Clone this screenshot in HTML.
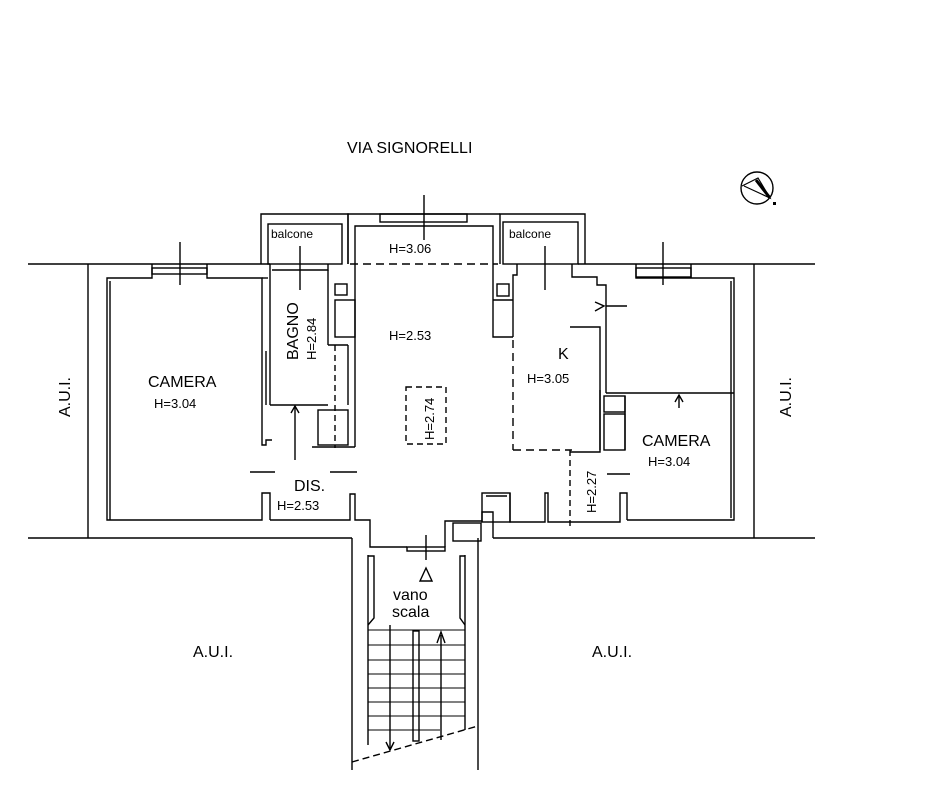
<!DOCTYPE html>
<html><head><meta charset="utf-8"><style>
html,body{margin:0;padding:0;background:#fff;width:951px;height:806px;overflow:hidden}
svg{display:block}
text{font-family:"Liberation Sans",sans-serif;fill:#000}
</style></head><body>
<svg width="951" height="806" viewBox="0 0 951 806" xmlns="http://www.w3.org/2000/svg">
<g stroke="#000" stroke-width="1.4" fill="none">
<line x1="28" y1="264" x2="270" y2="264"/>
<line x1="578" y1="264" x2="815" y2="264"/>
<line x1="28" y1="538" x2="352" y2="538"/>
<line x1="493" y1="538" x2="815" y2="538"/>
<line x1="88" y1="264" x2="88" y2="538"/>
<line x1="754" y1="264" x2="754" y2="538"/>
<polyline points="152,264 152,278 107,278 107,520 262,520 262,493 270,493 270,520"/>
<line x1="110" y1="281" x2="110" y2="520"/>
<polyline points="207,264 207,278 262,278 262,445 266,445 266,440 272,440"/>
<rect x="152" y="268" width="55" height="6"/>
<line x1="180" y1="242" x2="180" y2="285"/>
<line x1="262" y1="278" x2="268" y2="278"/>
<line x1="266" y1="351" x2="266" y2="405"/>
<polyline points="261,264 261,214 348,214 348,264"/>
<rect x="268" y="224" width="74" height="40"/>
<line x1="300" y1="246" x2="300" y2="290"/>
<line x1="270" y1="264" x2="270" y2="405"/>
<polyline points="270,405 328,405"/>
<polyline points="272,270 328,270 328,264"/>
<line x1="328" y1="270" x2="328" y2="345"/>
<line x1="328" y1="345" x2="348" y2="345"/>
<line x1="348" y1="345" x2="348" y2="405"/>
<line x1="295" y1="406" x2="295" y2="460"/>
<polyline points="291,413 295,406 299,413"/>
<rect x="318" y="410" width="30" height="35"/>
<polyline points="312,447 355,447"/>
<line x1="335" y1="345" x2="335" y2="448" stroke-dasharray="6,4"/>
<polyline points="348,264 348,214 500,214"/>
<polyline points="355,264 355,226 493,226 493,264"/>
<rect x="380" y="214" width="87" height="8"/>
<line x1="424" y1="195" x2="424" y2="240"/>
<line x1="350" y1="264" x2="498" y2="264" stroke-dasharray="8,5"/>
<line x1="355" y1="264" x2="355" y2="447"/>
<rect x="335" y="284" width="12" height="11"/>
<rect x="335" y="300" width="20" height="37"/>
<rect x="406" y="387" width="40" height="57" stroke-dasharray="6,4"/>
<line x1="250" y1="472" x2="275" y2="472"/>
<line x1="330" y1="472" x2="357" y2="472"/>
<polyline points="270,520 350,520 350,494 355,494 355,520 370,520 370,547 407,547"/>
<rect x="407" y="547" width="38" height="4"/>
<polyline points="445,547 445,521 452,521"/>
<line x1="426" y1="535" x2="426" y2="560"/>
<rect x="453" y="523" width="28" height="18"/>
<polyline points="452,521 482,521 482,512 493,512 493,538"/>
<rect x="482" y="493" width="28" height="29"/>
<line x1="486" y1="496" x2="507" y2="496"/>
<polyline points="510,493 510,522 545,522 545,493 548,493 548,522 620,522 620,493 627,493 627,520"/>
<line x1="570" y1="450" x2="570" y2="530" stroke-dasharray="6,4"/>
<polyline points="570,452 600,452 600,390"/>
<line x1="607" y1="474" x2="630" y2="474"/>
<polyline points="500,264 500,214 585,214 585,264"/>
<rect x="503" y="222" width="75" height="42"/>
<line x1="545" y1="246" x2="545" y2="290"/>
<polyline points="493,264 493,337 513,337"/>
<rect x="497" y="284" width="12" height="12"/>
<line x1="493" y1="300" x2="513" y2="300"/>
<polyline points="517,264 517,275 513,275 513,337"/>
<line x1="513" y1="340" x2="513" y2="450" stroke-dasharray="8,5"/>
<line x1="513" y1="450" x2="572" y2="450" stroke-dasharray="8,5"/>
<polyline points="572,264 572,277 597,277 597,285 606,285 606,325"/>
<polyline points="570,327 600,327 600,450"/>
<line x1="606" y1="325" x2="606" y2="393"/>
<polyline points="636,264 636,278 734,278 734,520 627,520"/>
<rect x="636" y="268" width="55" height="9"/>
<line x1="663" y1="242" x2="663" y2="285"/>
<polyline points="691,264 691,278"/>
<line x1="731" y1="281" x2="731" y2="518"/>
<line x1="606" y1="393" x2="734" y2="393"/>
<line x1="606" y1="306" x2="627" y2="306"/>
<polyline points="595,302 604,306 595,311"/>
<line x1="679" y1="395" x2="679" y2="408"/>
<polyline points="675,402 679,395 683,402"/>
<rect x="604" y="396" width="21" height="16"/>
<rect x="604" y="414" width="21" height="36"/>
<line x1="625" y1="396" x2="625" y2="450"/>
<line x1="352" y1="538" x2="352" y2="770"/>
<line x1="478" y1="538" x2="478" y2="770"/>
<polyline points="368,555 368,745"/>
<polyline points="368,556 374,556 374,618 368,625"/>
<polyline points="465,555 465,730"/>
<polyline points="465,556 460,556 460,618 465,625"/>
<rect x="413" y="631" width="6" height="110"/>
<line x1="390" y1="625" x2="390" y2="750"/>
<line x1="441" y1="635" x2="441" y2="740"/>
<polyline points="437,643 441,632 445,643"/>
<polyline points="386,742 390,750 394,742"/>
<g stroke-width="1">
<line x1="368" y1="630" x2="465" y2="630"/>
<line x1="368" y1="645" x2="465" y2="645"/>
<line x1="368" y1="660" x2="465" y2="660"/>
<line x1="368" y1="674" x2="465" y2="674"/>
<line x1="368" y1="688" x2="465" y2="688"/>
<line x1="368" y1="702" x2="465" y2="702"/>
<line x1="368" y1="716" x2="465" y2="716"/>
<line x1="368" y1="730" x2="440" y2="730"/>
</g>
<line x1="352" y1="762" x2="478" y2="726" stroke-dasharray="7,4"/>
<polygon points="420,581 426,568 432,581"/>
<circle cx="757" cy="188" r="16"/>
<polyline points="742,186 758,178 770,198 744,186" stroke-width="1.2"/>
<line x1="756" y1="180" x2="770" y2="198" stroke-width="3"/>
</g>
<rect x="773" y="202" width="3" height="3" fill="#000"/>
<g font-size="16">
<text x="347" y="153">VIA SIGNORELLI</text>
<text x="148" y="387">CAMERA</text>
<text x="642" y="446">CAMERA</text>
<text x="558" y="359">K</text>
<text x="294" y="491">DIS.</text>
<text x="193" y="657">A.U.I.</text>
<text x="592" y="657">A.U.I.</text>
<text x="393" y="600">vano</text>
<text x="392" y="617">scala</text>
<text transform="translate(70,417) rotate(-90)">A.U.I.</text>
<text transform="translate(791,417) rotate(-90)">A.U.I.</text>
<text transform="translate(298,360) rotate(-90)">BAGNO</text>
</g>
<g font-size="13">
<text x="154" y="408">H=3.04</text>
<text x="648" y="466">H=3.04</text>
<text x="527" y="383">H=3.05</text>
<text x="389" y="340">H=2.53</text>
<text x="277" y="510">H=2.53</text>
<text x="389" y="253">H=3.06</text>
<text font-size="12" x="271" y="238">balcone</text>
<text font-size="12" x="509" y="238">balcone</text>
<text transform="translate(316,360) rotate(-90)">H=2.84</text>
<text transform="translate(434,440) rotate(-90)">H=2.74</text>
<text transform="translate(596,513) rotate(-90)">H=2.27</text>
</g>
</svg>
</body></html>
